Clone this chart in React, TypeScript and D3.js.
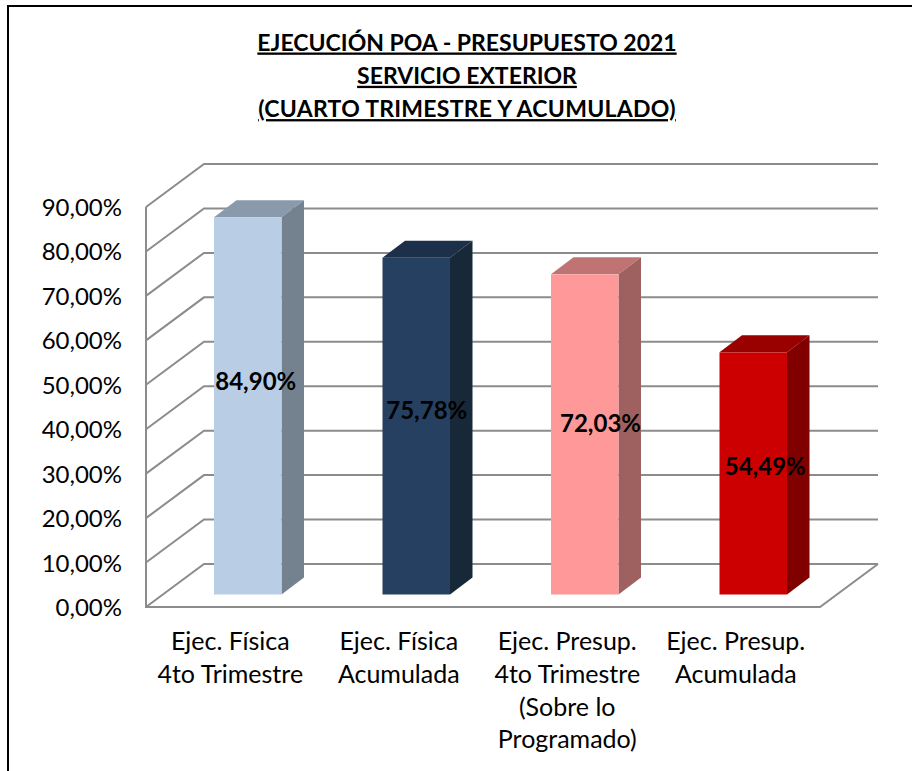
import React, { useEffect, useRef } from 'react';
import * as d3 from 'd3';

const titleLines = ['EJECUCIÓN POA - PRESUPUESTO 2021', 'SERVICIO EXTERIOR', '(CUARTO TRIMESTRE Y ACUMULADO)'];
const categories = ['fisica4t', 'fisicaAc', 'presup4t', 'presupAc'];
const categoryLabels = [
  ['Ejec. Física', '4to Trimestre'],
  ['Ejec. Física', 'Acumulada'],
  ['Ejec. Presup.', '4to Trimestre', '(Sobre lo', 'Programado)'],
  ['Ejec. Presup.', 'Acumulada'],
];
const values = [84.9, 75.78, 72.03, 54.49];
const valueLabels = ['84,90%', '75,78%', '72,03%', '54,49%'];
const ticks = [0, 10, 20, 30, 40, 50, 60, 70, 80, 90];
const frontColors = ['#b9cde5', '#254061', '#ff9999', '#cc0000'];
const topColors = ['#8a9aad', '#1c3049', '#bf7373', '#990000'];
const sideColors = ['#748290', '#172839', '#9f6060', '#800000'];

const FONT = 'Lato, "Open Sans", sans-serif';
const GRID = '#8c8c8c';

// the value labels were moved by hand in the original, they don't sit mid bar
const labelNudgeX = [8, 10.5, 15.75, 12];
const labelNudgeY = [-15.5, -7.5, -2.5, 1.5];

const App = () => {
  const ref = useRef<SVGSVGElement>(null);

  useEffect(() => {
    const svg = d3.select(ref.current);
    svg.selectAll('*').remove();

    // floor / wall geometry of the fake 3d box
    const left = 146;
    const right = 820;
    const depthX = 58;
    const depthY = 43;
    const y = d3.scaleLinear().domain([0, 90]).range([607, 207]);
    const x = d3.scaleBand().domain(categories).range([left, right]).paddingInner(0).paddingOuter(0);
    const barW = 67.5;
    const barDx = 17.5;
    const barDy = 12.5;
    const sideX = 22.5;
    const sideY = 17;

    // chart frame, the right edge is cropped off in the original
    svg.append('path')
      .attr('d', 'M8,771V6H912')
      .attr('fill', 'none')
      .attr('stroke', '#000')
      .attr('stroke-width', 2);

    // gridlines on side wall and back wall
    const grid = svg.append('g').attr('fill', 'none').attr('stroke', GRID).attr('stroke-width', 2);
    ticks.forEach(t => {
      grid.append('path').attr('d', d3.line()([
        [left, y(t)],
        [left + depthX, y(t) - depthY],
        [right + depthX, y(t) - depthY],
      ]));
    });
    grid.append('path').attr('d', d3.line()([
      [left, y(90)],
      [left, y(0)],
      [right, y(0)],
      [right + depthX, y(0) - depthY],
    ]));

    // bars
    const bars = svg.append('g').selectAll('g').data(categories).enter().append('g');
    const bx = (i: number) => (x(categories[i]) as number) + x.bandwidth() / 2 + barDx - barW / 2;
    const top = (i: number) => y(values[i]) - barDy;
    const bottom = y(0) - barDy;

    bars.append('path')
      .attr('fill', (d, i) => topColors[i])
      .attr('d', (d, i) => d3.line()([
        [bx(i), top(i)],
        [bx(i) + sideX, top(i) - sideY],
        [bx(i) + barW + sideX, top(i) - sideY],
        [bx(i) + barW, top(i)],
      ]) + 'Z');
    bars.append('path')
      .attr('fill', (d, i) => sideColors[i])
      .attr('d', (d, i) => d3.line()([
        [bx(i) + barW, top(i)],
        [bx(i) + barW + sideX, top(i) - sideY],
        [bx(i) + barW + sideX, bottom - sideY],
        [bx(i) + barW, bottom],
      ]) + 'Z');
    bars.append('rect')
      .attr('x', (d, i) => bx(i))
      .attr('y', (d, i) => top(i))
      .attr('width', barW)
      .attr('height', (d, i) => bottom - top(i))
      .attr('fill', (d, i) => frontColors[i]);

    // value labels
    bars.append('text')
      .attr('x', (d, i) => bx(i) + barW / 2 + labelNudgeX[i])
      .attr('y', (d, i) => (top(i) + bottom) / 2 + labelNudgeY[i])
      .attr('text-anchor', 'middle')
      .attr('font-family', FONT)
      .attr('font-size', 24)
      .attr('font-weight', 700)
      .attr('fill', '#000')
      .text((d, i) => valueLabels[i]);

    // y tick labels
    svg.append('g').selectAll('text').data(ticks).enter().append('text')
      .attr('x', 122)
      .attr('y', d => y(d) + 9)
      .attr('text-anchor', 'end')
      .attr('font-family', FONT)
      .attr('font-size', 24)
      .attr('fill', '#000')
      .text(d => d3.format('.2f')(d).replace('.', ',') + '%');

    // category labels
    const cat = svg.append('g').selectAll('g').data(categories).enter().append('g');
    cat.each(function (d, i) {
      categoryLabels[i].forEach((line, j) => {
        d3.select(this).append('text')
          .attr('x', (x(d) as number) + x.bandwidth() / 2)
          .attr('y', 650 + j * 32.8)
          .attr('text-anchor', 'middle')
          .attr('font-family', FONT)
          .attr('font-size', 25)
          .attr('fill', '#000')
          .text(line);
      });
    });

    // title
    titleLines.forEach((line, i) => {
      svg.append('text')
        .attr('x', 467)
        .attr('y', 50.5 + i * 33.3)
        .attr('text-anchor', 'middle')
        .attr('font-family', FONT)
        .attr('font-size', 23)
        .attr('font-weight', 700)
        .attr('letter-spacing', i === 2 ? 0.27 : 0)
        .attr('text-decoration', 'underline')
        .attr('fill', '#000')
        .text(line);
    });
  }, []);

  return (
    <svg
      ref={ref}
      width={912}
      height={771}
      style={{ position: 'absolute', left: 0, top: 0, background: '#fff' }}
    />
  );
};

export default App;
